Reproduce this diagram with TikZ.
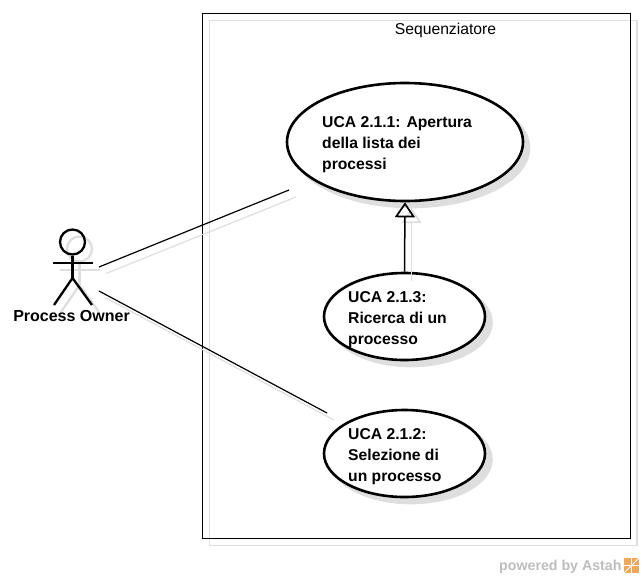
\documentclass[tikz,border=0pt]{standalone}
\usepackage{fontspec}
\setmainfont{Liberation Sans}
\usetikzlibrary{arrows.meta,shapes.geometric}
\definecolor{shadowgray}{HTML}{DEDEDE}
\definecolor{wm}{HTML}{BDBDBD}
\definecolor{logo}{HTML}{F2A65A}
\tikzset{
  frame/.style={draw=black,line width=1.2pt},
  frameshade/.style={draw=shadowgray,line width=1.2pt},
  uc/.style={ellipse,draw=black,line width=2.6pt,fill=white,inner sep=0pt},
  ucshade/.style={ellipse,fill=shadowgray,draw=shadowgray,line width=2.6pt,inner sep=0pt},
  uctext/.style={anchor=north west,align=left,inner sep=0pt,font=\fontsize{15.7}{21}\selectfont\bfseries},
  assoc/.style={draw=black,line width=1.2pt},
  assocshade/.style={draw=shadowgray,line width=1.2pt},
  limb/.style={line width=2.3pt,line cap=butt},
  gen/.style={draw=black,line width=1.5pt,-{Triangle[open,length=15pt,width=20pt,line width=1.7pt]}},
  genshade/.style={draw=shadowgray,line width=1.5pt,-{Triangle[open,length=15pt,width=20pt,line width=1.7pt]}},
}
\begin{document}
\begin{tikzpicture}[x=1pt,y=-1pt]
\useasboundingbox (0,0) rectangle (644,578);
% system boundary
\node[frameshade,minimum width=427.5pt,minimum height=525pt,inner sep=0pt] (sysS) at (423.2,282.7) {};
\node[frame,minimum width=428pt,minimum height=525pt,inner sep=0pt] (sys) at (416.5,276) {};
\node[anchor=base,inner sep=0pt,font=\fontsize{15.7}{16}\selectfont] (sysname) at (445.5,34.5) {Sequenziatore};
% use case shadows
\node[ucshade,minimum width=236pt,minimum height=118pt] (e1S) at (411,148) {};
\node[ucshade,minimum width=161pt,minimum height=87pt] (e3S) at (411,322.5) {};
\node[ucshade,minimum width=161pt,minimum height=87pt] (e2S) at (411,459.5) {};
% actor shadow
\begin{scope}[line width=2.3pt,xshift=7pt,yshift=-7pt]
  \draw[shadowgray] (72.5,242) circle (12.5);
  \draw[limb,shadowgray] (72.5,254.5) -- (72.5,278);
  \draw[limb,shadowgray] (53,263) -- (93,263);
  \draw[limb,shadowgray] (54,305) -- (72.5,278) -- (92,305);
\end{scope}
% connector shadows
\coordinate (aS) at (106,273.5);
\coordinate (bS) at (296,197);
\coordinate (cS) at (106,298);
\coordinate (dS) at (334,420);
\draw[assocshade] (aS) -- (bS);
\draw[assocshade] (cS) -- (dS);
% use cases
\node[uc,minimum width=236pt,minimum height=118pt] (e1) at (405,142) {};
\node[uc,minimum width=161pt,minimum height=87pt] (e3) at (404.5,316.5) {};
\node[uc,minimum width=161pt,minimum height=87pt] (e2) at (404.5,453.5) {};
\node[uctext] (t1) at (322,116) {UCA 2.1.1: Apertura\\della lista dei\\processi};
\node[uctext] (t3) at (348,291) {UCA 2.1.3:\\Ricerca di un\\processo};
\node[uctext] (t2) at (348,428) {UCA 2.1.2:\\Selezione di\\un processo};
% generalization
\coordinate (gS1) at (411.5,281);
\coordinate (gS2) at (411.5,208);
\draw[genshade] (gS1) -- (gS2);
\draw[gen] (e3.north) -- (e1.south);
% actor
\node[circle,draw=black,line width=2.3pt,fill=none,minimum size=25pt,inner sep=0pt] (head) at (72.5,242) {};
\coordinate (hip) at (72.5,278);
\coordinate (armL) at (53,263);
\coordinate (armR) at (93,263);
\coordinate (footL) at (54,305);
\coordinate (footR) at (92,305);
\draw[limb] (head.south) -- (hip);
\draw[limb] (armL) -- (armR);
\draw[limb] (footL) -- (hip) -- (footR);
\node[anchor=base,inner sep=0pt,font=\fontsize{16}{16}\selectfont\bfseries] (actor) at (71.5,321) {Process Owner};
% associations
\coordinate (a) at (99,267);
\coordinate (b) at (289,190);
\coordinate (c) at (99,291);
\coordinate (d) at (327,413);
\draw[assoc] (a) -- (b);
\draw[assoc] (c) -- (d);
% watermark
\node[anchor=base west,inner sep=0pt,text=wm,font=\fontsize{14.2}{16}\selectfont\bfseries] (wmark) at (499,570) {powered by Astah};
\node[fill=logo,minimum size=15pt,inner sep=0pt] (wlogo) at (631.5,565.5) {};
\draw[white,line width=0.8pt] (wlogo.north) -- (wlogo.south) (wlogo.west) -- (wlogo.east) (wlogo.south west) -- (wlogo.north east);
\end{tikzpicture}
\end{document}
